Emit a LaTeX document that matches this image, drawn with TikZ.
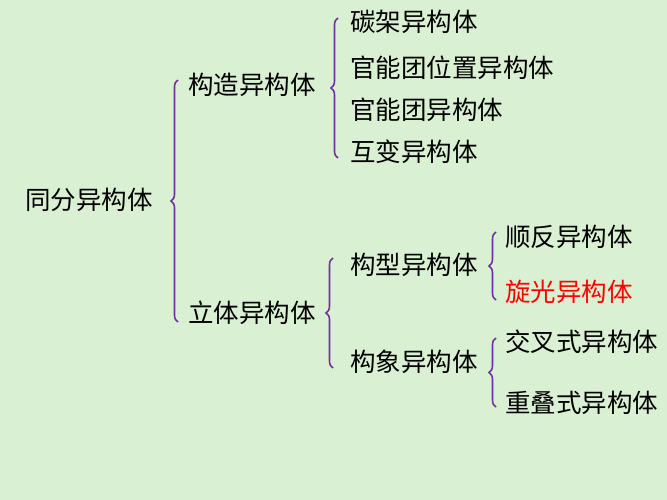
\documentclass[tikz,border=0pt]{standalone}
\usepackage{fontspec}
\setmainfont{Noto Sans CJK SC}
\usetikzlibrary{decorations.pathreplacing}
\definecolor{bg}{RGB}{218,240,210}
\definecolor{br}{RGB}{112,48,160}
\begin{document}
\begin{tikzpicture}[x=1pt,y=-1pt,
  lbl/.style={anchor=west,inner sep=0pt,font=\fontsize{25.5}{28}\selectfont},
  brc/.style={draw=br,line width=1.6pt,decorate,decoration={brace,amplitude=7pt,mirror}}]
\useasboundingbox (0,0) rectangle (667,500);
\fill[bg] (0,0) rectangle (667,500);
\node[lbl] (a) at (25,200) {同分异构体};
\node[lbl] (b) at (188,85) {构造异构体};
\node[lbl] (c) at (188,313) {立体异构体};
\node[lbl] (b1) at (350,22) {碳架异构体};
\node[lbl] (b2) at (350,68) {官能团位置异构体};
\node[lbl] (b3) at (350,110) {官能团异构体};
\node[lbl] (b4) at (350,152) {互变异构体};
\node[lbl] (c1) at (350,265) {构型异构体};
\node[lbl] (c2) at (350,362) {构象异构体};
\node[lbl] (d1) at (505,237) {顺反异构体};
\node[lbl,text=red] (d2) at (505,292) {旋光异构体};
\node[lbl] (e1) at (505,342) {交叉式异构体};
\node[lbl] (e2) at (505,403) {重叠式异构体};
\draw[brc] (178,80) -- (178,322);
\draw[brc] (338,18) -- (338,158);
\draw[brc] (333,258) -- (333,368);
\draw[brc] (496,232) -- (496,300);
\draw[brc] (496,338) -- (496,407);
\end{tikzpicture}
\end{document}
